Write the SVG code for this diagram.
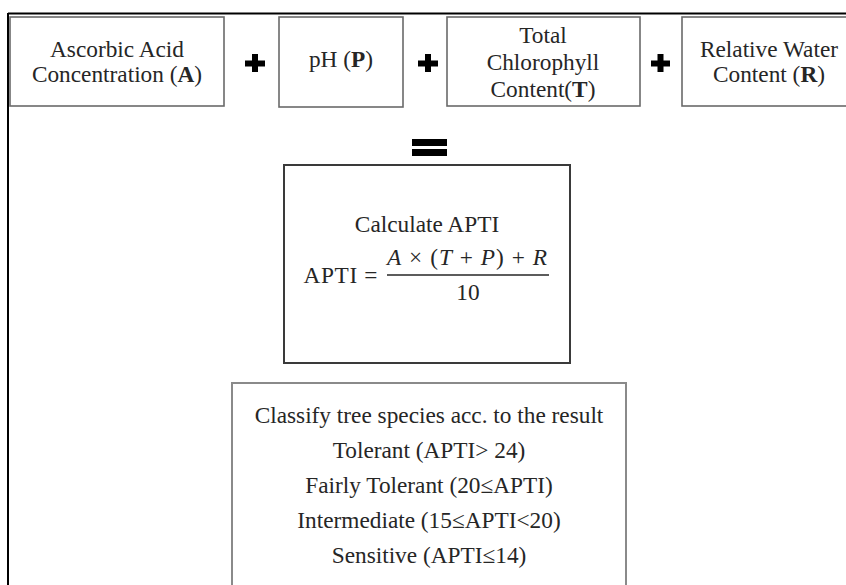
<svg xmlns="http://www.w3.org/2000/svg" width="846" height="585" viewBox="0 0 846 585">
<style>
  text { font-family: "Liberation Serif", "Times New Roman", serif; fill: #262626; font-size: 23.3px; text-anchor: middle; }
  .box { fill: #ffffff; stroke: #6a6a6a; stroke-width: 1.6; }
  .dark { fill: #ffffff; stroke: #3a3a3a; stroke-width: 2; }
  .grey { fill: #ffffff; stroke: #8a8a8a; stroke-width: 2; }
  .op { fill: #000000; }
  .b { font-weight: bold; }
  .i { font-style: italic; }
</style>
<rect width="846" height="585" fill="#ffffff"/>
<g id="frame">
  <line x1="8" y1="13.5" x2="846" y2="13.5" stroke="#000" stroke-width="2"/>
  <line x1="8" y1="13" x2="8" y2="585" stroke="#000" stroke-width="2"/>
</g>
<g id="node-ascorbic">
  <rect class="box" x="10" y="17" width="214" height="89"/>
  <text x="117" y="57">Ascorbic Acid</text>
  <text x="117" y="82">Concentration (<tspan class="b">A</tspan>)</text>
</g>
<g id="node-ph">
  <rect class="box" x="279" y="17" width="124" height="90"/>
  <text x="341" y="67">pH (<tspan class="b">P</tspan>)</text>
</g>
<g id="node-chlorophyll">
  <rect class="box" x="447" y="17" width="193" height="89"/>
  <text x="543" y="43">Total</text>
  <text x="543" y="70">Chlorophyll</text>
  <text x="543" y="97">Content(<tspan class="b">T</tspan>)</text>
</g>
<g id="node-water">
  <rect class="box" x="682" y="17" width="180" height="89" stroke="#444"/>
  <text x="769" y="57">Relative Water</text>
  <text x="769" y="82">Content (<tspan class="b">R</tspan>)</text>
</g>
<g id="connectors">
  <g class="op">
    <rect x="245" y="60.5" width="20" height="6"/>
    <rect x="252" y="54" width="6" height="18"/>
    <rect x="418" y="60.5" width="20" height="6"/>
    <rect x="425" y="54" width="6" height="18"/>
    <rect x="651" y="60.5" width="19" height="6"/>
    <rect x="657.5" y="54" width="6" height="18"/>
    <rect x="412" y="139" width="35" height="7"/>
    <rect x="412" y="149" width="35" height="7"/>
  </g>
</g>
<g id="node-calculate">
  <rect class="dark" x="284" y="165" width="286" height="198"/>
  <text x="427" y="232">Calculate APTI</text>
  <text x="340.5" y="283" textLength="74" lengthAdjust="spacing">APTI =</text>
  <text x="467" y="265" textLength="160" lengthAdjust="spacing"><tspan class="i">A</tspan> × (<tspan class="i">T</tspan> + <tspan class="i">P</tspan>) + <tspan class="i">R</tspan></text>
  <line x1="387" y1="275" x2="549" y2="275" stroke="#262626" stroke-width="1.5"/>
  <text x="468" y="300">10</text>
</g>
<g id="node-classify">
  <rect class="grey" x="232" y="383" width="394" height="215"/>
  <text x="429" y="423">Classify tree species acc. to the result</text>
  <text x="429" y="458">Tolerant (APTI&gt; 24)</text>
  <text x="429" y="493">Fairly Tolerant (20≤APTI)</text>
  <text x="429" y="528">Intermediate (15≤APTI&lt;20)</text>
  <text x="429" y="563">Sensitive (APTI≤14)</text>
</g>
</svg>
